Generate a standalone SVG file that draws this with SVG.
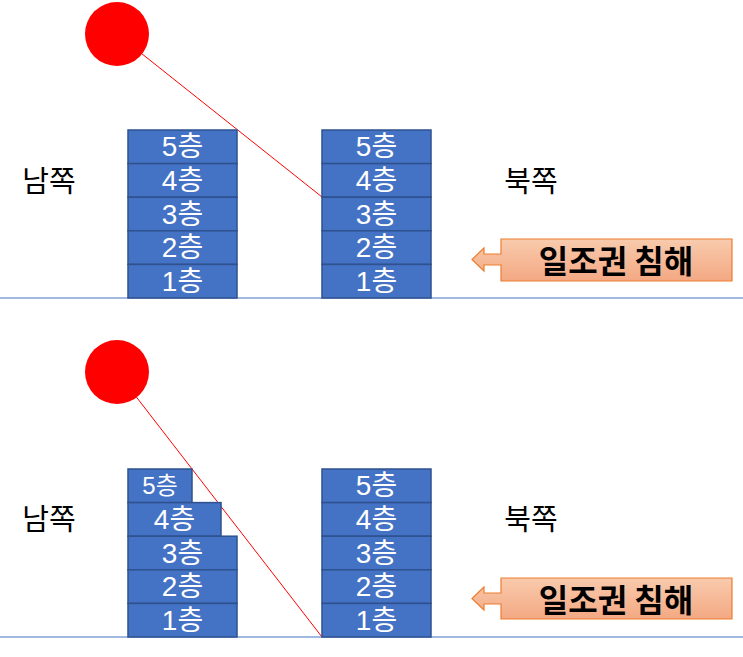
<svg xmlns="http://www.w3.org/2000/svg" width="743" height="657" viewBox="0 0 743 657">
<defs>
<style>
.fl{fill:#4472C4;stroke:#2F528F;stroke-width:1.5}
.ft{font-family:"Liberation Sans","Noto Sans CJK KR",sans-serif;font-size:28px;fill:#FFFFFF;text-anchor:middle;dominant-baseline:central}
.lb{font-family:"Noto Sans CJK KR","Noto Sans",sans-serif;font-size:29px;fill:#000000;text-anchor:middle;dominant-baseline:central}
.ct{font-family:"Noto Sans CJK KR","Noto Sans",sans-serif;font-size:32px;font-weight:bold;fill:#000000;text-anchor:middle;dominant-baseline:central}
.gr{stroke:#4472C4;stroke-width:1}
.sun{fill:#FF0000}
.ray{stroke:#FF0000;stroke-width:1}
.co{fill:url(#og);stroke:#ED7D31;stroke-width:1.2}
</style>
<linearGradient id="og" x1="0" y1="0" x2="0" y2="1">
<stop offset="0" stop-color="#F8CBAD"/>
<stop offset="1" stop-color="#F4A883"/>
</linearGradient>
</defs>
<g id="connectors">
<line class="gr" x1="0" y1="298" x2="743" y2="298"/>
<line class="gr" x1="0" y1="637" x2="743" y2="637"/>
<line class="ray" x1="117" y1="34" x2="322" y2="197"/>
<line class="ray" x1="117" y1="372" x2="322" y2="637"/>
</g>
<g id="sun-top"><circle class="sun" cx="117" cy="34" r="32"/></g>
<g id="sun-bottom"><circle class="sun" cx="117" cy="372" r="32"/></g>
<g id="south-top-building">
<rect class="fl" x="128" y="130" width="109" height="33.6"/><text class="ft" x="182.5" y="146.8">5층</text>
<rect class="fl" x="128" y="163.6" width="109" height="33.6"/><text class="ft" x="182.5" y="180.4">4층</text>
<rect class="fl" x="128" y="197.2" width="109" height="33.6"/><text class="ft" x="182.5" y="214">3층</text>
<rect class="fl" x="128" y="230.8" width="109" height="33.6"/><text class="ft" x="182.5" y="247.6">2층</text>
<rect class="fl" x="128" y="264.4" width="109" height="33.6"/><text class="ft" x="182.5" y="281.2">1층</text>
</g>
<g id="north-top-building">
<rect class="fl" x="322" y="130" width="109" height="33.6"/><text class="ft" x="376.5" y="146.8">5층</text>
<rect class="fl" x="322" y="163.6" width="109" height="33.6"/><text class="ft" x="376.5" y="180.4">4층</text>
<rect class="fl" x="322" y="197.2" width="109" height="33.6"/><text class="ft" x="376.5" y="214">3층</text>
<rect class="fl" x="322" y="230.8" width="109" height="33.6"/><text class="ft" x="376.5" y="247.6">2층</text>
<rect class="fl" x="322" y="264.4" width="109" height="33.6"/><text class="ft" x="376.5" y="281.2">1층</text>
</g>
<g id="south-bottom-building">
<rect class="fl" x="128" y="469" width="64" height="33.6"/><text class="ft" x="160" y="485.8" style="font-size:24px">5층</text>
<rect class="fl" x="128" y="502.6" width="93" height="33.6"/><text class="ft" x="174.5" y="519.4">4층</text>
<rect class="fl" x="128" y="536.2" width="109" height="33.6"/><text class="ft" x="182.5" y="553">3층</text>
<rect class="fl" x="128" y="569.8" width="109" height="33.6"/><text class="ft" x="182.5" y="586.6">2층</text>
<rect class="fl" x="128" y="603.4" width="109" height="33.6"/><text class="ft" x="182.5" y="620.2">1층</text>
</g>
<g id="north-bottom-building">
<rect class="fl" x="322" y="469" width="109" height="33.6"/><text class="ft" x="376.5" y="485.8">5층</text>
<rect class="fl" x="322" y="502.6" width="109" height="33.6"/><text class="ft" x="376.5" y="519.4">4층</text>
<rect class="fl" x="322" y="536.2" width="109" height="33.6"/><text class="ft" x="376.5" y="553">3층</text>
<rect class="fl" x="322" y="569.8" width="109" height="33.6"/><text class="ft" x="376.5" y="586.6">2층</text>
<rect class="fl" x="322" y="603.4" width="109" height="33.6"/><text class="ft" x="376.5" y="620.2">1층</text>
</g>
<g id="label-south-top"><text class="lb" x="49" y="179">남쪽</text></g>
<g id="label-north-top"><text class="lb" x="531" y="179">북쪽</text></g>
<g id="label-south-bottom"><text class="lb" x="49" y="517">남쪽</text></g>
<g id="label-north-bottom"><text class="lb" x="531" y="517">북쪽</text></g>
<g id="callout-top">
<path class="co" d="M732,239 L501,239 L501,254 L484,254 L484,248 L472,259.5 L484,271 L484,265 L501,265 L501,281 L732,281 Z"/>
<text class="ct" x="616" y="259">일조권 침해</text>
</g>
<g id="callout-bottom">
<path class="co" d="M732,578 L501,578 L501,593 L484,593 L484,587 L472,598.5 L484,610 L484,604 L501,604 L501,619 L732,619 Z"/>
<text class="ct" x="616" y="598">일조권 침해</text>
</g>
</svg>
